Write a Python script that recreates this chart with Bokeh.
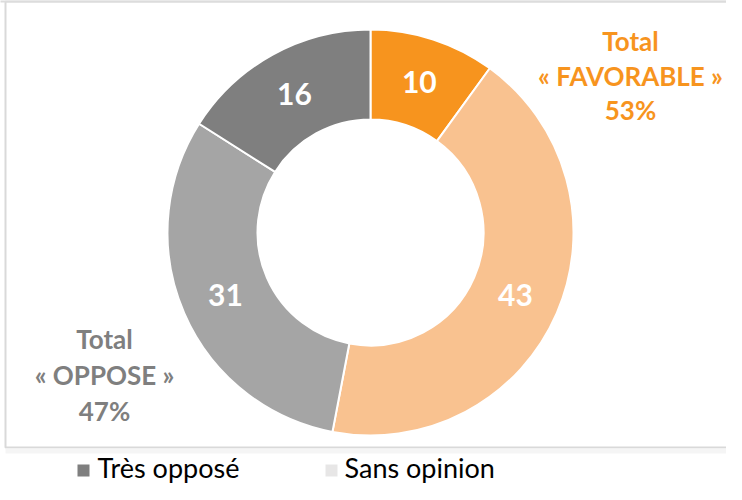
import numpy as np
from bokeh.plotting import figure
from bokeh.models import Range1d, ColumnDataSource
from bokeh.core.properties import value
from bokeh.embed import file_html
from bokeh.resources import INLINE

# ---- data ----
categories = ["Très favorable", "Plutôt favorable", "Plutôt opposé", "Très opposé"]
values = [10, 43, 31, 16]
colors = ["#F7941E", "#F9C290", "#A5A5A5", "#7F7F7F"]
favorable_idx = [0, 1]
oppose_idx = [2, 3]
legend_labels = ["Très opposé", "Sans opinion"]
legend_colors = ["#7F7F7F", "#E7E6E6"]

W, H = 726, 484
FONT = "Lato"

p = figure(width=W, height=H, output_backend="svg", toolbar_location=None,
           x_range=Range1d(0, W), y_range=Range1d(0, H), min_border=0)
p.axis.visible = False
p.grid.visible = False
p.outline_line_color = None
p.background_fill_color = "white"
p.border_fill_color = "white"

# frame
p.quad(left=[5], right=[760], bottom=[37], top=[483], fill_color="white",
       line_color="#D9D9D9", line_width=2)
p.quad(left=[-5], right=[760], bottom=[482], top=[490], fill_color="#DCDCDC",
       line_color=None)
p.quad(left=[5], right=[760], bottom=[31], top=[36], fill_color="#F5F5F5",
       line_color=None)

# donut
cx, cy = 370, 252
r_in, r_out = 113, 203
vals = np.array(values, dtype=float)
frac = vals / vals.sum()
cum_end = np.cumsum(frac)
cum_start = cum_end - frac
start = np.pi / 2 - 2 * np.pi * cum_end
end = np.pi / 2 - 2 * np.pi * cum_start
src = ColumnDataSource(dict(x=[cx] * len(vals), y=[cy] * len(vals), start=start,
                            end=end, color=colors, cat=categories))
p.annular_wedge(x="x", y="y", inner_radius=r_in, outer_radius=r_out,
                start_angle="start", end_angle="end", fill_color="color",
                line_color="white", line_width=2, source=src)

mid = (start + end) / 2
r_lab = (r_in + r_out) / 2
lab = ColumnDataSource(dict(x=cx + r_lab * np.cos(mid), y=cy + r_lab * np.sin(mid),
                            t=[str(v) for v in values]))
p.text(x="x", y="y", text="t", source=lab, text_color="white",
       text_font=value(FONT), text_font_style="bold", text_font_size="30px",
       text_align="center", text_baseline="middle")

# totals
fav = sum(values[i] for i in favorable_idx)
opp = sum(values[i] for i in oppose_idx)
fav_lines = ["Total", "« FAVORABLE »", f"{fav}%"]
opp_lines = ["Total", "« OPPOSE »", f"{opp}%"]
p.text(x=[630] * 3, y=[444, 409, 375], text=fav_lines, text_color="#F7941E",
       text_font=value(FONT), text_font_style="bold", text_font_size="26px",
       text_align="center", text_baseline="middle")
p.text(x=[104] * 3, y=[146, 110, 74], text=opp_lines, text_color="#7F7F7F",
       text_font=value(FONT), text_font_style="bold", text_font_size="26px",
       text_align="center", text_baseline="middle")

# legend
p.scatter(x=[83, 331], y=[14, 14], marker="square", size=12, fill_color=legend_colors,
          line_color=None)
p.text(x=[97, 344], y=[17, 17], text=legend_labels, text_color="#000000",
       text_font=value(FONT), text_font_size="27px", text_align="left",
       text_baseline="middle")

open("out.html", "w").write(file_html(p, INLINE))
